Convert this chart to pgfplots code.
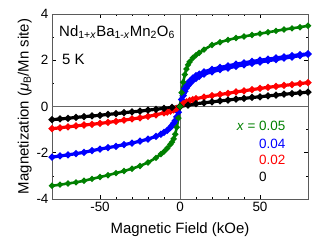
\documentclass[border=0pt]{standalone}
\usepackage{fontspec}
\setmainfont{Liberation Sans}
\usepackage{pgfplots}
\pgfplotsset{compat=1.18}
\definecolor{cgreen}{RGB}{0,128,0}
\definecolor{cblue}{RGB}{0,0,255}
\definecolor{cred}{RGB}{255,0,0}
\definecolor{frame}{RGB}{90,90,90}
\begin{document}
\begin{tikzpicture}
\begin{axis}[
  width=256bp, height=185bp, scale only axis,
  xmin=-80, xmax=80, ymin=-4, ymax=4,
  xtick={-50,0,50}, minor x tick num=4,
  ytick={-4,-2,0,2,4}, minor y tick num=1,
  tick align=inside,
  major tick length=4bp, minor tick length=2.5bp,
  axis line style={frame, line width=0.9pt},
  every tick/.style={black, line width=0.6pt},
  /pgf/number format/assume math mode=true,
  tick label style={font=\fontsize{13.5}{14}\selectfont},
  label style={font=\fontsize{15}{16}\selectfont},
  xlabel={Magnetic Field (kOe)},
  ylabel={Magnetization (\textit{μ}\textsubscript{B}/Mn site)},
  xlabel style={yshift=-4bp},
  ylabel style={yshift=-2bp},
  clip=true,
]
\draw[gray!80!black, line width=0.9pt] (axis cs:0,-4) -- (axis cs:0,4);
\draw[gray!80!black, line width=0.9pt] (axis cs:-80,0) -- (axis cs:80,0);

% x = 0.04 (blue), two branches
\addplot[cblue, line width=3.2pt, mark=*, mark size=1.5bp] coordinates {
(-80,-2.19) (-75,-2.14) (-70,-2.09) (-65,-2.04) (-60,-1.98) (-55,-1.91) (-50,-1.84)
(-45,-1.78) (-40,-1.72) (-35,-1.65) (-30,-1.58) (-25,-1.50) (-20,-1.41) (-15,-1.29)
(-12,-1.20) (-10,-1.12) (-8,-1.03) (-6,-0.91) (-5,-0.83) (-4,-0.73) (-3,-0.61)
(-2,-0.45) (-1,-0.25) (0,0) (1,0.30) (2,0.56) (3,0.76) (4,0.90) (5,1.01) (6,1.09)
(8,1.23) (10,1.33) (12,1.40) (15,1.50) (20,1.61) (25,1.69) (30,1.76) (35,1.83)
(40,1.89) (45,1.95) (50,2.00) (55,2.05) (60,2.10) (65,2.15) (70,2.20) (75,2.24) (80,2.28)
};
\addplot[cblue, line width=3.2pt, mark=*, mark size=1.5bp] coordinates {
(2,0.47) (3,0.66) (4,0.80) (5,0.90) (6,0.98) (8,1.12) (10,1.22) (12,1.30) (15,1.40)
(20,1.50) (25,1.59) (30,1.66) (35,1.74) (40,1.80) (45,1.87) (50,1.92) (55,1.98)
(60,2.03) (65,2.09) (70,2.14) (75,2.20) (80,2.26)
};

% x = 0.02 (red)
\addplot[cred, line width=3.2pt, mark=*, mark size=1.5bp] coordinates {
(-80,-0.96) (-75,-0.92) (-70,-0.88) (-65,-0.84) (-60,-0.80) (-55,-0.77) (-50,-0.73)
(-45,-0.69) (-40,-0.64) (-35,-0.59) (-30,-0.54) (-25,-0.49) (-20,-0.43) (-15,-0.36)
(-10,-0.28) (-8,-0.24) (-6,-0.20) (-4,-0.15) (-2,-0.08) (0,0) (2,0.12) (4,0.20)
(6,0.26) (8,0.30) (10,0.34) (15,0.41) (20,0.47) (25,0.52) (30,0.57) (35,0.63)
(40,0.68) (45,0.73) (50,0.78) (55,0.83) (60,0.87) (65,0.91) (70,0.95) (75,0.99) (80,1.03)
};

% x = 0 (black)
\addplot[black, line width=3.2pt, mark=*, mark size=1.5bp] coordinates {
(-80,-0.57) (-75,-0.54) (-70,-0.51) (-65,-0.47) (-60,-0.44) (-55,-0.41) (-50,-0.38)
(-45,-0.34) (-40,-0.31) (-35,-0.27) (-30,-0.23) (-25,-0.20) (-20,-0.16) (-15,-0.12)
(-10,-0.08) (-5,-0.04) (0,0) (5,0.06) (10,0.12) (15,0.16) (20,0.20) (25,0.24)
(30,0.28) (35,0.32) (40,0.35) (45,0.39) (50,0.42) (55,0.46) (60,0.49) (65,0.53)
(70,0.56) (75,0.59) (80,0.62)
};

% x = 0.05 (green)
\addplot[cgreen, line width=2.6pt, mark=*, mark size=1.5bp] coordinates {
(-80,-3.43) (-75,-3.38) (-70,-3.33) (-65,-3.28) (-60,-3.21) (-55,-3.13) (-50,-3.05)
(-45,-2.97) (-40,-2.88) (-35,-2.79) (-30,-2.69) (-25,-2.57) (-20,-2.42) (-15,-2.22)
(-12,-2.06) (-10,-1.95) (-8,-1.81) (-6,-1.64) (-5,-1.54) (-4,-1.40) (-3,-1.20)
(-2,-0.90) (-1,-0.50) (0,0) (1,0.60) (2,1.05) (3,1.38) (4,1.62) (5,1.80) (6,1.93)
(8,2.10) (10,2.22) (12,2.32) (15,2.46) (20,2.66) (25,2.78) (30,2.88) (35,2.96)
(40,3.03) (45,3.09) (50,3.15) (55,3.21) (60,3.27) (65,3.33) (70,3.38) (75,3.43) (80,3.49)
};

\node[anchor=west, inner sep=0pt, font=\fontsize{15}{16}\selectfont] at (axis cs:-75.6,3.22)
  {Nd\textsubscript{1+\textit{x}}Ba\textsubscript{1-\textit{x}}Mn\textsubscript{2}O\textsubscript{6}};
\node[anchor=west, inner sep=0pt, font=\fontsize{15}{16}\selectfont] at (axis cs:-73.8,2.04) {5 K};

\node[anchor=west, inner sep=0pt, text=cgreen, font=\fontsize{13.5}{14}\selectfont] at (axis cs:49.4,-0.83) {\llap{\textit{x} = }0.05};
\node[anchor=west, inner sep=0pt, text=cblue, font=\fontsize{13.5}{14}\selectfont] at (axis cs:49.4,-1.61) {0.04};
\node[anchor=west, inner sep=0pt, text=cred, font=\fontsize{13.5}{14}\selectfont] at (axis cs:49.4,-2.32) {0.02};
\node[anchor=west, inner sep=0pt, text=black, font=\fontsize{13.5}{14}\selectfont] at (axis cs:49.4,-3.04) {0};
\end{axis}
\pgfresetboundingbox
\path[use as bounding box] (current axis.south west) ++(-52bp,-47bp) rectangle ++(332bp,246bp);
\end{tikzpicture}
\end{document}
